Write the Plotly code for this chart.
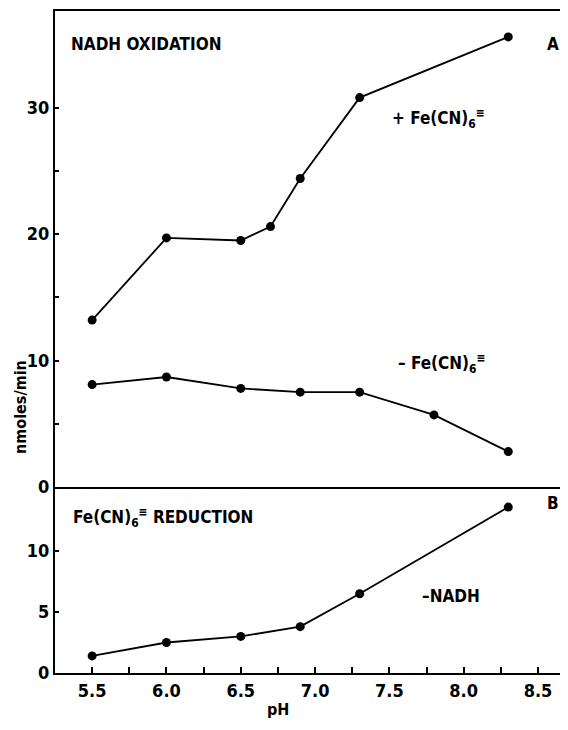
import plotly.graph_objects as go

# ---- data ----
ph_plus = [5.5, 6.0, 6.5, 6.7, 6.9, 7.3, 8.3]
ox_plus = [13.2, 19.7, 19.5, 20.6, 24.4, 30.8, 35.6]

ph_minus = [5.5, 6.0, 6.5, 6.9, 7.3, 7.8, 8.3]
ox_minus = [8.1, 8.7, 7.8, 7.5, 7.5, 5.7, 2.8]

ph_red = [5.5, 6.0, 6.5, 6.9, 7.3, 8.3]
red_minus_nadh = [1.4, 2.5, 3.0, 3.8, 6.5, 13.6]

x_ticks = [5.5, 6.0, 6.5, 7.0, 7.5, 8.0, 8.5]
x_ticktext = ["5.5", "6.0", "6.5", "7.0", "7.5", "8.0", "8.5"]
yA_ticks = [0, 10, 20, 30]
yA_minor = [5, 15, 25]
yB_ticks = [0, 5, 10]

FONT = "DejaVu Sans Condensed, DejaVu Sans, sans-serif"
OFF = 8  # default page body margin
W, H = 552, 714
# plot area in page pixels: left 55, right 560, top 11, bottom 673
ML, MT = 55 - OFF, 11 - OFF
MR = 0
MB = H - (673 - OFF)
PW, PH = W - ML - MR, H - MT - MB
split = (673 - 487) / PH


def paper(px, py):
    """page pixel -> paper fraction"""
    fx, fy = px - OFF, py - OFF
    return (fx - ML) / PW, (H - MB - fy) / PH


line = dict(color="black", width=1.8)
marker = dict(color="black", size=9)

fig = go.Figure()
fig.add_trace(go.Scatter(x=ph_plus, y=ox_plus, mode="lines+markers",
                         line=line, marker=marker, xaxis="x", yaxis="y"))
fig.add_trace(go.Scatter(x=ph_minus, y=ox_minus, mode="lines+markers",
                         line=line, marker=marker, xaxis="x", yaxis="y"))
fig.add_trace(go.Scatter(x=ph_red, y=red_minus_nadh, mode="lines+markers",
                         line=line, marker=marker, xaxis="x2", yaxis="y2"))

xr = [5.25, 8.648]
tickfont = dict(family=FONT, size=18, color="black", weight="bold")

fig.update_layout(
    width=W, height=H,
    margin=dict(l=ML, r=MR, t=MT, b=MB, pad=0),
    paper_bgcolor="white", plot_bgcolor="white",
    showlegend=False,
    font=dict(family=FONT, color="black", size=16),
    xaxis=dict(domain=[0, 1], anchor="y", range=xr, showline=True, linecolor="black",
               linewidth=2, mirror=True, showticklabels=False, ticks="", showgrid=False,
               zeroline=False),
    yaxis=dict(domain=[split, 1], anchor="x", range=[0, 37.65], tickvals=yA_ticks,
               ticks="inside", ticklen=4, tickwidth=1.5, tickcolor="black",
               minor=dict(tickvals=yA_minor, ticks="inside", ticklen=4, tickwidth=1.5,
                          tickcolor="black", showgrid=False),
               showline=True, linecolor="black", linewidth=2, showgrid=False,
               zeroline=False, tickfont=tickfont),
    xaxis2=dict(domain=[0, 1], anchor="y2", range=xr, tickvals=x_ticks,
                ticktext=x_ticktext, ticks="inside", ticklen=6, tickwidth=1.5,
                tickcolor="black",
                minor=dict(dtick=0.25, tick0=5.5, ticks="inside", ticklen=6,
                           tickwidth=1.5, tickcolor="black", showgrid=False),
                showline=True, linecolor="black", linewidth=2, showgrid=False,
                zeroline=False, tickfont=tickfont),
    yaxis2=dict(domain=[0, split], anchor="x2", range=[0, 15.25], tickvals=yB_ticks,
                ticks="inside", ticklen=4, tickwidth=1.5, tickcolor="black",
                showline=True, linecolor="black", linewidth=2, showgrid=False,
                zeroline=False, tickfont=tickfont),
)

labfont = dict(family=FONT, size=17, color="black", weight="bold")
ann = [
    ("NADH OXIDATION", 69, 44, "left"),
    ("A", 553, 44, "center"),
    ("+ Fe(CN)<sub>6</sub><sup>≡</sup>", 390, 118, "left"),
    ("– Fe(CN)<sub>6</sub><sup>≡</sup>", 396, 363, "left"),
    ("Fe(CN)<sub>6</sub><sup>≡</sup> REDUCTION", 71, 517, "left"),
    ("B", 553, 503, "center"),
    ("–NADH", 420, 596, "left"),
]
for text, px, py, xa in ann:
    x, y = paper(px, py)
    fig.add_annotation(text=text, x=x, y=y, xref="paper", yref="paper",
                       xanchor=xa, yanchor="middle", showarrow=False, font=labfont)

x, y = paper(278, 721)
fig.add_annotation(text="pH", x=x, y=y, xref="paper", yref="paper",
                   xanchor="center", yanchor="bottom", showarrow=False,
                   font=dict(family=FONT, size=16, color="black", weight="bold"))

x, y = paper(20, 407)
fig.add_annotation(text="nmoles/min", x=x, y=y, xref="paper", yref="paper",
                   textangle=-90, showarrow=False, xanchor="center", yanchor="middle",
                   font=dict(family=FONT, size=16, color="black", weight="bold"))

fig.write_html("out.html")
